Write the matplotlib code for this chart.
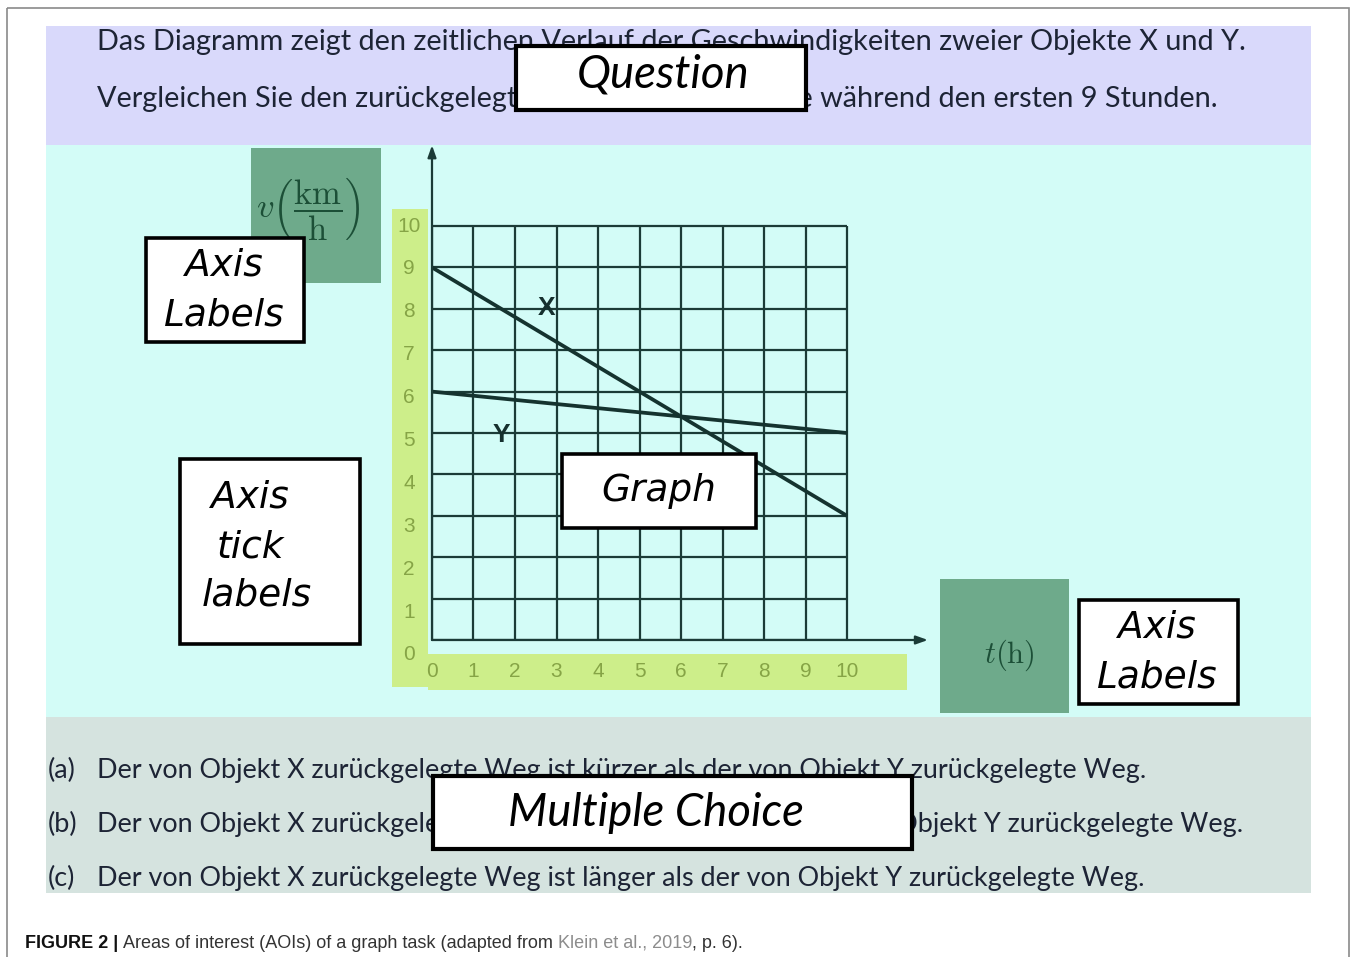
import matplotlib
matplotlib.use("Agg")
import matplotlib.pyplot as plt
from matplotlib.patches import Rectangle

# ==========================
# Data
# ==========================
t_hours = [0, 10]
speed_x = [9, 3]
speed_y = [6, 5]
grid_ticks = list(range(11))
tick_labels = [str(v) for v in grid_ticks]

question_lines = [
    "Das Diagramm zeigt den zeitlichen Verlauf der Geschwindigkeiten zweier Objekte X und Y.",
    "Vergleichen Sie den zurückgelegten Weg beider Objekte während den ersten 9 Stunden.",
]
choice_keys = ["(a)", "(b)", "(c)"]
choice_lines = [
    "Der von Objekt X zurückgelegte Weg ist kürzer als der von Objekt Y zurückgelegte Weg.",
    "Der von Objekt X zurückgelegte Weg ist genau so lang wie der von Objekt Y zurückgelegte Weg.",
    "Der von Objekt X zurückgelegte Weg ist länger als der von Objekt Y zurückgelegte Weg.",
]
caption_parts = [
    ("FIGURE 2 | ", "bold", "#111111"),
    ("Areas of interest (AOIs) of a graph task (adapted from ", "normal", "#333333"),
    ("Klein et al., 2019", "normal", "#8c8c8c"),
    (", p. 6).", "normal", "#333333"),
]

# ==========================
# Styles
# ==========================
W, H = 1357, 957
purple = "#d9d9fb"
cyan = "#d3fcf7"
grey = "#d5e3df"
green = "#6eaa8b"
yellow = "#cdee8a"
grid_c = "#1b3b37"
text_c = "#1d2435"
tick_c = "#86a446"
body_font = ["Lato", "DejaVu Sans"]
box_font = ["DejaVu Sans"]
num_font = ["Liberation Sans", "DejaVu Sans"]

fig = plt.figure(figsize=(W / 100, H / 100), dpi=100)
renderer = fig.canvas.get_renderer()

back = fig.add_axes([0, 0, 1, 1])
back.set_xlim(0, W)
back.set_ylim(H, 0)
back.axis("off")

front = fig.add_axes([0, 0, 1, 1], zorder=3)
front.set_xlim(0, W)
front.set_ylim(H, 0)
front.axis("off")
front.patch.set_visible(False)

# graph axes placed so that t=0 / v=0 sit at pixel (432, 640)
ox, oy, ux, uy, lim = 432, 640, 41.5, 41.4, 12
gax = fig.add_axes([ox / W, (H - oy) / H, lim * ux / W, lim * uy / H], zorder=2)
gax.set_xlim(0, lim)
gax.set_ylim(0, lim)
gax.axis("off")
gax.patch.set_visible(False)


def fit(txt, width):
    w = txt.get_window_extent(renderer).width
    txt.set_fontsize(txt.get_fontsize() * width / w)


def box(x0, y0, x1, y1, lw=2.6):
    front.add_patch(Rectangle((x0, y0), x1 - x0, y1 - y0, facecolor="white",
                              edgecolor="black", lw=lw, zorder=3))


# ==========================
# Background bands
# ==========================
back.add_patch(Rectangle((7, 8), 1342, 960, fill=False, edgecolor="#8a8a8a", lw=1.2))
back.add_patch(Rectangle((46, 26), 1265, 119, color=purple, lw=0))
back.add_patch(Rectangle((46, 145), 1265, 572, color=cyan, lw=0))
back.add_patch(Rectangle((46, 717), 1265, 176, color=grey, lw=0))

# question text
q1 = back.text(97, 50, question_lines[0], family=body_font, fontsize=20,
               color=text_c, va="baseline")
fit(q1, 1249 - 97)
back.text(97, 107, question_lines[1], family=body_font, fontsize=q1.get_fontsize(),
          color=text_c, va="baseline")

# multiple choice text
c_last = back.text(97, 886, choice_lines[2], family=body_font, fontsize=20,
                   color=text_c, va="baseline")
fit(c_last, 1150 - 97)
fs_body = c_last.get_fontsize()
for i, (key, line) in enumerate(zip(choice_keys, choice_lines)):
    yb = 778 + 54 * i
    back.text(48, yb, key, family=body_font, fontsize=fs_body, color=text_c, va="baseline")
    if i < 2:
        back.text(97, yb, line, family=body_font, fontsize=fs_body, color=text_c,
                  va="baseline")

# axis label patches
back.add_patch(Rectangle((251, 148), 130, 135, color=green, lw=0))
back.text(308, 208, r"$v\left(\dfrac{\mathrm{km}}{\mathrm{h}}\right)$", math_fontfamily="cm",
          fontsize=25, color="#1c4f37", ha="center", va="center")
back.add_patch(Rectangle((940, 579), 129, 134, color=green, lw=0))
back.text(1009, 655, r"$t(\mathrm{h})$", math_fontfamily="cm", fontsize=22,
          color="#1c4f37", ha="center", va="center")

# tick label strips
back.add_patch(Rectangle((392, 209), 36, 478, color=yellow, lw=0))
back.add_patch(Rectangle((428, 654), 479, 36, color=yellow, lw=0))

# ==========================
# Graph
# ==========================
gax.vlines(grid_ticks, 0, 10, color=grid_c, lw=1.6)
gax.hlines(grid_ticks, 0, 10, color=grid_c, lw=1.6)
arrow = dict(arrowstyle="-|>,head_length=0.7,head_width=0.25", color=grid_c, lw=1.6,
             shrinkA=0, shrinkB=0)
gax.annotate("", xy=(11.95, 0), xytext=(0, 0), arrowprops=arrow)
gax.annotate("", xy=(0, 11.95), xytext=(0, 0), arrowprops=arrow)

gax.plot(t_hours, speed_x, color="#15332f", lw=2.7, solid_capstyle="butt")
gax.plot(t_hours, speed_y, color="#15332f", lw=2.7, solid_capstyle="butt")
gax.text(2.77, 8.02, "X", fontsize=19, fontweight="bold", color="#16302e",
         ha="center", va="center", family=num_font)
gax.text(1.66, 4.95, "Y", fontsize=19, fontweight="bold", color="#16302e",
         ha="center", va="center", family=num_font)

label_stretch = 1.036
for v, lab in zip(grid_ticks, tick_labels):
    gax.text(-0.55, 10 - (10 - v) * label_stretch, lab, fontsize=15, color=tick_c,
             ha="center", va="center", clip_on=False, family=num_font)
    gax.text(v, -0.75, lab, fontsize=15, color=tick_c, ha="center", va="center",
             clip_on=False, family=num_font)

# ==========================
# AOI boxes
# ==========================
box(516, 46, 806, 110, lw=3)
t = front.text(663, 75, "Question", family=body_font, style="italic", fontsize=28,
               ha="center", va="center", zorder=4)
fit(t, 173)

box(146, 238, 304, 342)
front.text(224, 266, "Axis", family=box_font, style="italic", fontsize=27,
           ha="center", va="center", zorder=4)
front.text(224, 315, "Labels", family=box_font, style="italic", fontsize=27,
           ha="center", va="center", zorder=4)

box(180, 459, 360, 644)
for x, y, s in [(250, 498, "Axis"), (250, 547, "tick"), (257, 596, "labels")]:
    front.text(x, y, s, family=box_font, style="italic", fontsize=27,
               ha="center", va="center", zorder=4)

box(562, 454, 756, 528)
front.text(659, 491, "Graph", family=box_font, style="italic", fontsize=27,
           ha="center", va="center", zorder=4)

box(1079, 600, 1238, 704)
front.text(1157, 628, "Axis", family=box_font, style="italic", fontsize=27,
           ha="center", va="center", zorder=4)
front.text(1157, 677, "Labels", family=box_font, style="italic", fontsize=27,
           ha="center", va="center", zorder=4)

box(433, 776, 912, 849, lw=3)
t = front.text(656, 813, "Multiple Choice", family=body_font, style="italic", fontsize=28,
               ha="center", va="center", zorder=4)
fit(t, 296)

# ==========================
# Caption
# ==========================
cap_font = ["Liberation Sans Narrow", "Liberation Sans", "DejaVu Sans"]
prev = None
pieces = []
for s, weight, col in caption_parts:
    if prev is None:
        prev = back.text(25, 948, s, family=cap_font, fontsize=13, fontweight=weight,
                         color=col, va="baseline")
    else:
        prev = back.annotate(s, xy=(1, 0), xycoords=prev, va="bottom", ha="left",
                             family=cap_font, fontsize=13, fontweight=weight, color=col)
    pieces.append(prev)
fig.canvas.draw()
right = pieces[-1].get_window_extent(renderer).x1
scale = (741 - 25) / (right - 25)
for p in pieces:
    p.set_fontsize(13 * scale)

fig.savefig("out.png", dpi=100)
